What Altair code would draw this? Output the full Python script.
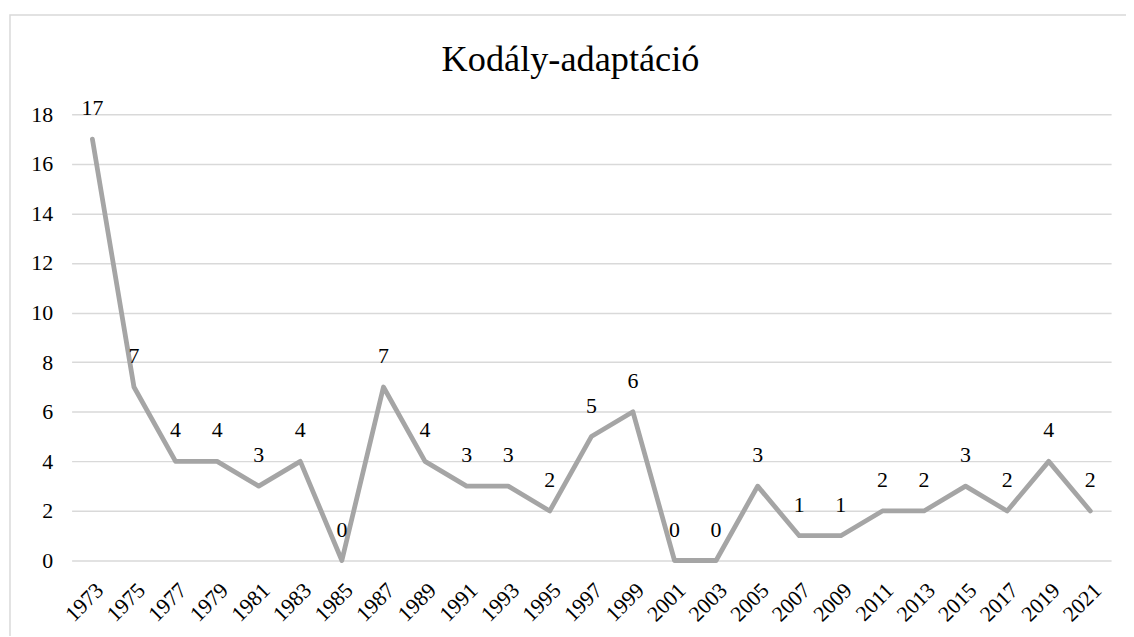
import altair as alt
import pandas as pd

years = [str(y) for y in range(1973, 2022, 2)]
values = [17, 7, 4, 4, 3, 4, 0, 7, 4, 3, 3, 2, 5, 6, 0, 0, 3, 1, 1, 2, 2, 3, 2, 4, 2]
title_text = ["Kodály-adaptáció"]

df = pd.DataFrame({"year": years, "count": values})

FONT = "'Liberation Serif', 'Times New Roman', Times, serif"

xenc = alt.X("year:O", sort=years, title=None,
             scale=alt.Scale(type="point", padding=0.5),
             axis=alt.Axis(labelAngle=-45, labelFont=FONT, labelFontSize=22,
                           labelColor="#000000", labelPadding=19, ticks=False,
                           domain=False, grid=False))
yenc = alt.Y("count:Q", title=None,
             scale=alt.Scale(domain=[0, 18], nice=False),
             axis=alt.Axis(values=list(range(0, 19, 2)), labelFont=FONT,
                           labelFontSize=22, labelColor="#000000", labelPadding=19,
                           ticks=False, domain=False, grid=True,
                           gridColor="#d9d9d9", gridWidth=1.5))

border = alt.Chart(pd.DataFrame({"a": [0]})).mark_rect(
    fill=None, stroke="#d9d9d9", strokeWidth=1.5
).encode(x=alt.value(-62), x2=alt.value(1080), y=alt.value(-100), y2=alt.value(540))

title = alt.Chart(pd.DataFrame({"t": title_text})).mark_text(
    font=FONT, fontSize=36.5, color="#000000", align="center", baseline="alphabetic"
).encode(x=alt.value(502), y=alt.value(-44), text="t:N")

line = alt.Chart(df).mark_line(color="#a5a5a5", strokeWidth=4.8,
                               strokeCap="round", strokeJoin="round").encode(x=xenc, y=yenc)

labels = alt.Chart(df).mark_text(font=FONT, fontSize=22, color="#000000",
                                 baseline="alphabetic", dy=-24).encode(
    x=alt.X("year:O", sort=years), y="count:Q", text="count:Q")

chart = alt.layer(border, title, line, labels).properties(
    width=1046, height=449,
    autosize=alt.AutoSizeParams(type="none"),
    padding={"left": 64, "top": 105, "right": 15, "bottom": 74},
).configure(background="white", font=FONT).configure_view(stroke=None)

chart.save("out.html", embed_options={"renderer": "svg", "actions": False})
